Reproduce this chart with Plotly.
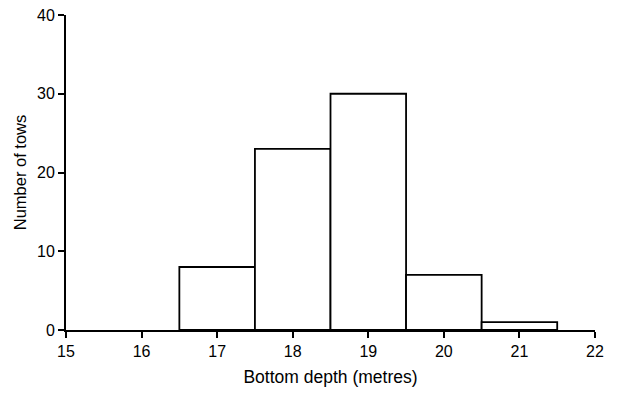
import plotly.graph_objects as go

depth_bins = [17, 18, 19, 20, 21]
tow_counts = [8, 23, 30, 7, 1]
x_ticks = [15, 16, 17, 18, 19, 20, 21, 22]
y_ticks = [0, 10, 20, 30, 40]

fig = go.Figure(go.Bar(
    x=depth_bins, y=tow_counts, width=1,
    marker=dict(color="white", line=dict(color="black", width=1.8)),
))

font = dict(family="Liberation Sans, Arial, sans-serif", color="black")
# page body has an 8px margin, so the figure is offset by 8px
fig.update_layout(
    width=609, height=386,
    margin=dict(l=58, r=22, t=7, b=64, autoexpand=False),
    paper_bgcolor="white", plot_bgcolor="white",
    font=font, showlegend=False,
)
fig.update_xaxes(
    range=[15, 22], tickvals=x_ticks, ticks="outside", ticklen=6, tickwidth=1.8,
    tickcolor="black", showline=True, linecolor="black", linewidth=1.8,
    showgrid=False, zeroline=False, tickfont=dict(size=16), automargin=False,
    ticklabeloverflow="allow",
    title=dict(text="Bottom depth (metres)", font=dict(size=17.5), standoff=12),
)
fig.update_yaxes(
    range=[0, 40], tickvals=y_ticks, ticks="outside", ticklen=6, tickwidth=1.8,
    tickcolor="black", showline=True, linecolor="black", linewidth=1.8,
    showgrid=False, zeroline=False, tickfont=dict(size=16), automargin=False,
    ticklabeloverflow="allow",
    title=dict(text="Number of tows", font=dict(size=16.5), standoff=6),
)
fig.write_html("out.html")
